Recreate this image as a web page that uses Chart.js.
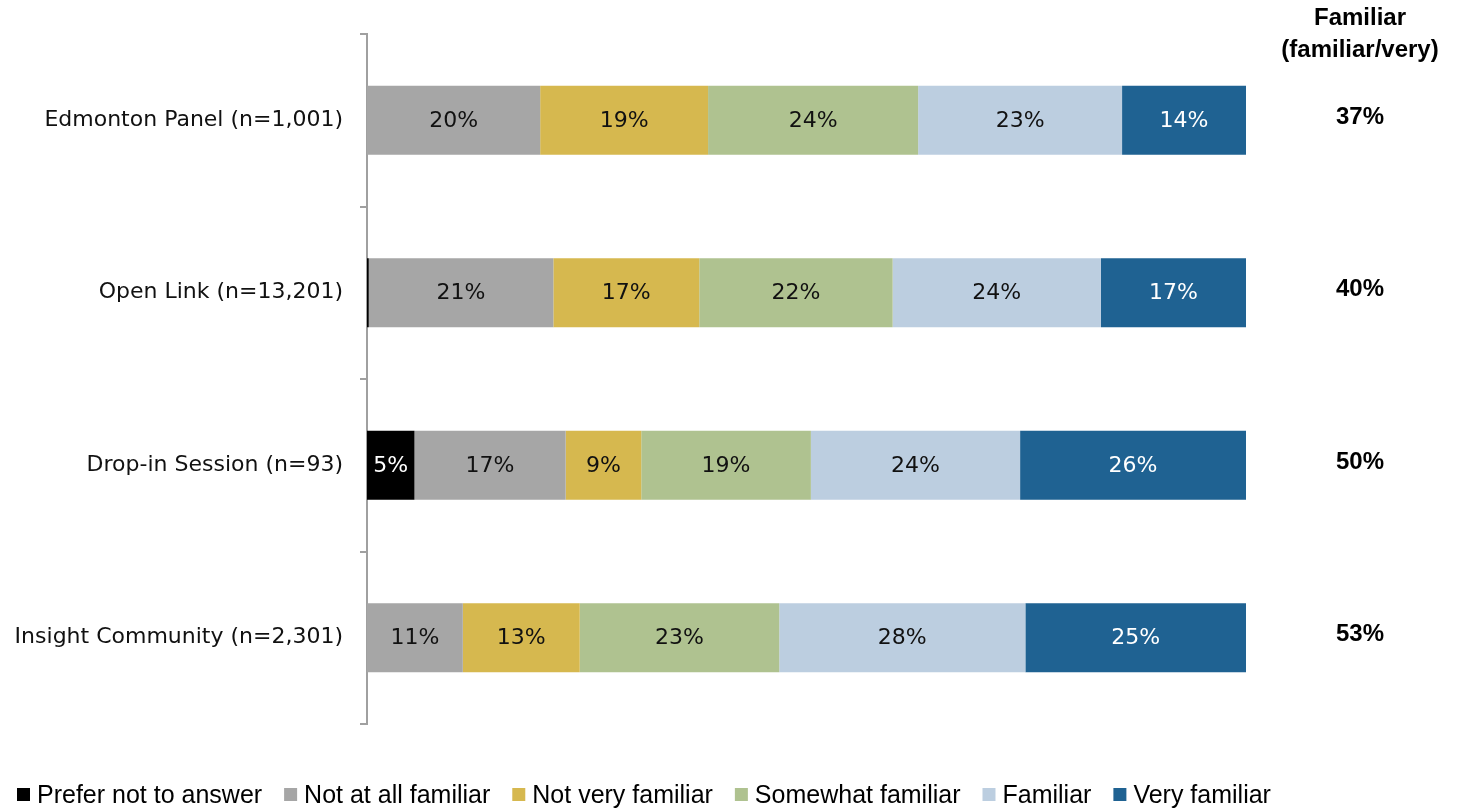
<!DOCTYPE html>
<html>
<head>
<meta charset="utf-8">
<title>Familiarity by sample</title>
<script src="https://cdn.jsdelivr.net/npm/chart.js@4.4.1/dist/chart.umd.min.js"></script>
<style>
    body { margin: 0; background: #ffffff; }
    #familiar-chart { display: block; }
</style>
</head>
<body>
<canvas id="familiar-chart" width="1458" height="808"></canvas>
<script>
let familiarChart; // chart instance

// data (percent of each sample)
const categories = ['Edmonton Panel (n=1,001)', 'Open Link (n=13,201)', 'Drop-in Session (n=93)', 'Insight Community (n=2,301)'];
const preferNotToAnswer = [0, 0.2, 5.4, 0];
const notAtAllFamiliar = [19.7, 21.0, 17.2, 10.9];
const notVeryFamiliar = [19.1, 16.6, 8.6, 13.3];
const somewhatFamiliar = [23.9, 22.0, 19.3, 22.7];
const familiar = [23.2, 23.7, 23.8, 28.0];
const veryFamiliar = [14.1, 16.5, 25.7, 25.1];
const seriesNames = ['Prefer not to answer', 'Not at all familiar', 'Not very familiar', 'Somewhat familiar', 'Familiar', 'Very familiar'];
const familiarTotals = ['37%', '40%', '50%', '53%'];
const familiarHeader = ['Familiar', '(familiar/very)'];

// styling
const seriesColors = ['#000000', '#a6a6a6', '#d6b84f', '#afc290', '#bccee0', '#1f6292'];
const labelColors = ['#ffffff', '#111111', '#111111', '#111111', '#111111', '#ffffff'];
const axisGray = '#a0a0a0';

window.onload = function () {
    CreateFamiliarChart();
};

// percentage text inside every segment
const segmentLabels = {
    id: 'segmentLabels',
    afterDatasetsDraw(chart) {
        const ctx = chart.ctx;
        ctx.save();
        ctx.font = '22px "DejaVu Sans"';
        ctx.textAlign = 'center';
        ctx.textBaseline = 'middle';
        chart.data.datasets.forEach((ds, i) => {
            const meta = chart.getDatasetMeta(i);
            meta.data.forEach((bar, j) => {
                const v = ds.data[j];
                if (v < 1) return; // the tiny sliver has no label
                const p = bar.getCenterPoint();
                ctx.fillStyle = labelColors[i];
                ctx.fillText(Math.round(v) + '%', p.x, p.y + 1);
            });
        });
        ctx.restore();
    }
};

// "Familiar (familiar/very)" column on the right
const familiarColumn = {
    id: 'familiarColumn',
    afterDraw(chart) {
        const ctx = chart.ctx;
        const yScale = chart.scales.y;
        const colX = 1360;
        ctx.save();
        ctx.fillStyle = '#000000';
        ctx.textAlign = 'center';
        ctx.textBaseline = 'middle';
        ctx.font = 'bold 24px "Liberation Sans"';
        ctx.fillText(familiarHeader[0], colX, 18);
        ctx.fillText(familiarHeader[1], colX, 50);
        familiarTotals.forEach((t, j) => {
            ctx.fillText(t, colX, yScale.getPixelForValue(j) - 3);
        });
        ctx.restore();
    }
};

// legend row along the bottom, left aligned
const bottomLegend = {
    id: 'bottomLegend',
    afterDraw(chart) {
        const ctx = chart.ctx;
        const box = 13;
        const y = 795;
        let x = 17;
        ctx.save();
        ctx.font = '25px "Liberation Sans"';
        ctx.textAlign = 'left';
        ctx.textBaseline = 'middle';
        chart.data.datasets.forEach((ds) => {
            ctx.fillStyle = ds.backgroundColor;
            ctx.fillRect(x, y - 7, box, box);
            x += box + 7;
            ctx.fillStyle = '#000000';
            ctx.fillText(ds.label, x, y + 1);
            x += ctx.measureText(ds.label).width + 22;
        });
        ctx.restore();
    }
};

function CreateFamiliarChart() {
    console.log('Creating familiar chart');
    const seriesValues = [preferNotToAnswer, notAtAllFamiliar, notVeryFamiliar, somewhatFamiliar, familiar, veryFamiliar];
    const ctx = document.getElementById('familiar-chart').getContext('2d');

    familiarChart = new Chart(ctx, {
        type: 'bar',
        data: {
            labels: categories,
            datasets: seriesNames.map((name, i) => ({
                label: name,
                data: seriesValues[i],
                backgroundColor: seriesColors[i],
                borderWidth: 0,
                barPercentage: 0.4,
                categoryPercentage: 1.0
            }))
        },
        options: {
            indexAxis: 'y',
            responsive: false,
            animation: false,
            devicePixelRatio: 1,
            layout: {
                padding: { top: 34, right: 212, bottom: 84, left: 0 }
            },
            scales: {
                x: {
                    stacked: true,
                    min: 0,
                    max: 100,
                    display: false
                },
                y: {
                    stacked: true,
                    grid: {
                        display: true,
                        offset: true,
                        drawOnChartArea: false,
                        drawTicks: true,
                        tickLength: 7,
                        color: axisGray,
                        lineWidth: 2
                    },
                    border: { display: true, color: axisGray, width: 2 },
                    ticks: {
                        color: '#111111',
                        padding: 17,
                        font: { family: 'DejaVu Sans', size: 22 }
                    },
                    afterFit: function (scale) {
                        scale.width = 367; // bars start at x=367 like the original
                    }
                }
            },
            plugins: {
                legend: { display: false },
                tooltip: { enabled: false }
            }
        },
        plugins: [segmentLabels, familiarColumn, bottomLegend]
    });
    console.log('familiar chart created');
}
</script>
</body>
</html>
